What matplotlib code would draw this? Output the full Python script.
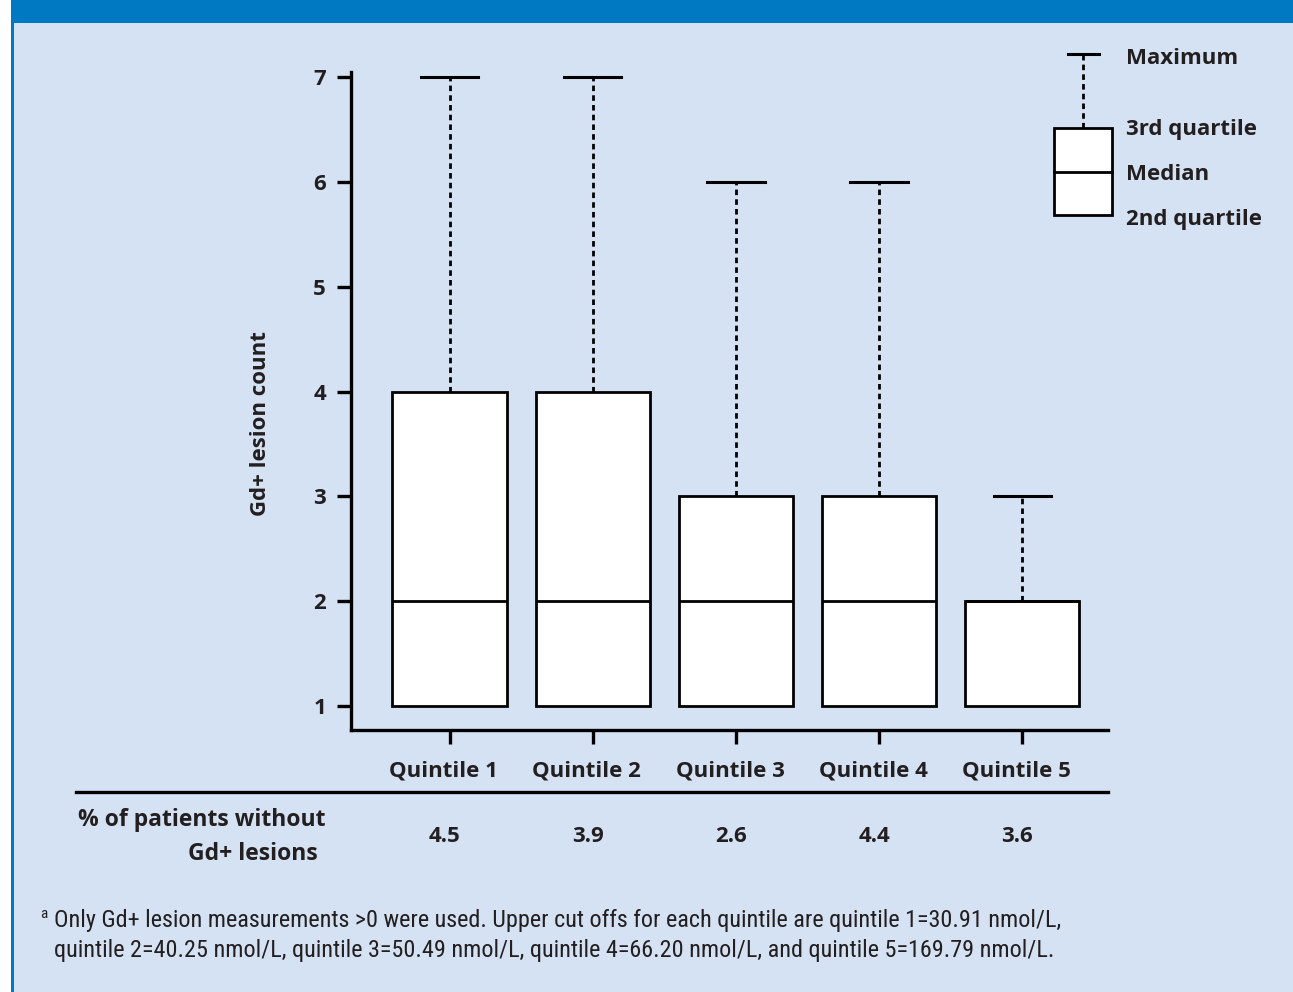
import matplotlib.pyplot as plt
import numpy as np
from matplotlib.lines import Line2D
from matplotlib.patches import Rectangle
from matplotlib.transforms import ScaledTranslation

W, H = 1293, 992
BG = '#d5e2f3'
BAND = '#0079c2'
INK = '#231f20'

quintiles = ['Quintile 1', 'Quintile 2', 'Quintile 3', 'Quintile 4', 'Quintile 5']
q1_vals = [1, 1, 1, 1, 1]
medians = [2, 2, 2, 2, 2]
q3_vals = [4, 4, 3, 3, 2]
max_vals = [7, 7, 6, 6, 3]
pct_without = ['4.5', '3.9', '2.6', '4.4', '3.6']
y_ticks = [1, 2, 3, 4, 5, 6, 7]

footnote = ['Only Gd+ lesion measurements >0 were used. Upper cut offs for each quintile are quintile 1=30.91 nmol/L,',
            'quintile 2=40.25 nmol/L, quintile 3=50.49 nmol/L, quintile 4=66.20 nmol/L, and quintile 5=169.79 nmol/L.']

plt.rcParams['font.family'] = ['Open Sans', 'DejaVu Sans']
NARROW = ['Liberation Sans Narrow', 'Roboto Condensed', 'Roboto', 'DejaVu Sans']


def px(x, y):
    return x / W, 1 - y / H


fig = plt.figure(figsize=(W / 100, H / 100), dpi=100)
fig.patch.set_facecolor('white')

# panel background, top band and left border
for rect in [Rectangle(px(14, 992), (W - 14) / W, (992 - 23) / H, facecolor=BG),
             Rectangle(px(11, 23), (W - 11) / W, 23 / H, facecolor=BAND),
             Rectangle(px(11, 992), 3 / W, (992 - 23) / H, facecolor=BAND)]:
    rect.set_transform(fig.transFigure)
    rect.set_edgecolor('none')
    rect.set_zorder(-10)
    fig.patches.append(rect)

# main axes
x0, y0 = px(351, 730)
x1, y1 = px(1108, 72)
ax = fig.add_axes([x0, y0, x1 - x0, y1 - y0])
ax.set_facecolor('none')

stats = []
for name, lo, med, hi, mx in zip(quintiles, q1_vals, medians, q3_vals, max_vals):
    stats.append(dict(label=name, q1=lo, med=med, q3=hi, whislo=lo, whishi=mx))

positions = np.arange(1, len(quintiles) + 1)
bp = ax.bxp(stats, positions=positions, widths=0.8, capwidths=0.4, patch_artist=True,
            showfliers=False,
            boxprops=dict(facecolor='white', edgecolor='black', linewidth=2),
            medianprops=dict(color='black', linewidth=2),
            whiskerprops=dict(color='black', linewidth=2, linestyle=(0, (2, 1.5))),
            capprops=dict(color='black', linewidth=2.2))
# only the upper whisker is drawn
for cap in bp['caps'][0::2]:
    cap.set_visible(False)
for wh in bp['whiskers'][0::2]:
    wh.set_visible(False)

ax.set_xlim(0.31, 5.6)
ax.set_ylim(0.77, 7.05)
ax.set_yticks(y_ticks)
ax.set_xticks(positions)
ax.set_xticklabels(quintiles)
for s in ['top', 'right']:
    ax.spines[s].set_visible(False)
for s in ['left', 'bottom']:
    ax.spines[s].set_linewidth(2.4)
    ax.spines[s].set_color('black')
ax.tick_params(axis='both', direction='out', length=10, width=2.4, colors='black',
               labelcolor=INK, labelsize=16, pad=8)
ax.tick_params(axis='x', pad=12)
shift = ScaledTranslation(-6 / 100, 0, fig.dpi_scale_trans)
for lab in ax.get_xticklabels():
    lab.set_transform(lab.get_transform() + shift)
for lab in ax.get_xticklabels() + ax.get_yticklabels():
    lab.set_fontweight('bold')

fig.text(*px(260, 424), 'Gd+ lesion count', rotation=90, ha='center', va='center',
         fontsize=16, fontweight='bold', color=INK)

# legend key
lx0, ly0 = px(1040, 230)
lx1, ly1 = px(1125, 40)
lg = fig.add_axes([lx0, ly0, lx1 - lx0, ly1 - ly0])
lg.set_xlim(1040, 1125)
lg.set_ylim(230, 40)
lg.axis('off')
lg.add_patch(Rectangle((1054, 128), 58, 87, facecolor='white', edgecolor='black', linewidth=2))
lg.plot([1054, 1112], [172, 172], color='black', linewidth=2)
lg.plot([1083, 1083], [128, 54], color='black', linewidth=2, linestyle=(0, (2, 1.5)))
lg.plot([1068, 1099], [54, 54], color='black', linewidth=2.2)
for label, yy in [('Maximum', 58), ('3rd quartile', 130), ('Median', 174), ('2nd quartile', 219)]:
    fig.text(*px(1126, yy), label, ha='left', va='center', fontsize=16, fontweight='bold', color=INK)

# table row below the axis
fig.add_artist(Line2D([76 / W, 1108 / W], [1 - 792 / H, 1 - 792 / H], color='black', linewidth=2.4))
fig.text(*px(78, 820), '% of patients without', ha='left', va='center', fontsize=16.5,
         fontweight='bold', color=INK)
fig.text(*px(318, 854), 'Gd+ lesions', ha='right', va='center', fontsize=16.5,
         fontweight='bold', color=INK)
for p, val in zip(positions, pct_without):
    xf = ax.transData.transform((p, 1))[0] / fig.bbox.width
    fig.text(xf - 5 / W, 1 - 837 / H, val, ha='center', va='center', fontsize=16,
             fontweight='bold', color=INK)

# footnote
fig.text(*px(40, 914), 'a', ha='left', va='center', fontsize=11, color=INK, family=NARROW)
for line, yy in zip(footnote, [920, 950]):
    fig.text(*px(54, yy), line, ha='left', va='center', fontsize=17.4, color=INK, family=NARROW)

fig.savefig('out.png', dpi=100, facecolor=fig.get_facecolor())
